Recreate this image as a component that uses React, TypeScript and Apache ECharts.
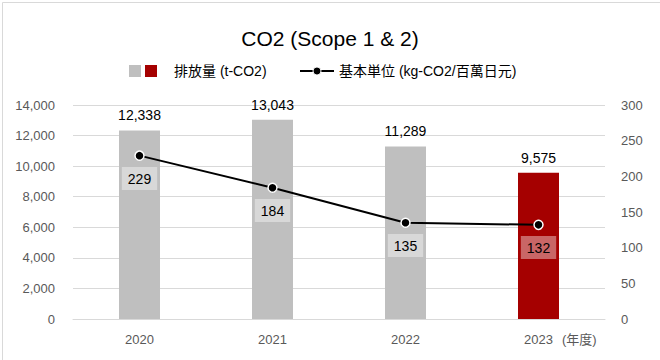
import React, { useEffect, useRef } from "react";
import * as echarts from "echarts";

const categories = ["2020", "2021", "2022", "2023"];
const emissions = [12338, 13043, 11289, 9575];
const intensity = [229, 184, 135, 132];
const leftTicks = { min: 0, max: 14000, interval: 2000 };
const rightTicks = { min: 0, max: 300, interval: 50 };

const FONT = "'Liberation Sans', Arial, 'Noto Sans CJK JP', sans-serif";
const GRAY = "#bfbfbf";
const RED = "#a50000";

export default function App() {
  const ref = useRef<HTMLDivElement>(null);
  useEffect(() => {
    if (!ref.current) return;
    const chart = echarts.init(ref.current, undefined, { renderer: "svg" });
    chart.setOption({
      animation: false,
      backgroundColor: "#ffffff",
      textStyle: { fontFamily: FONT },
      title: {
        text: "CO2 (Scope 1 & 2)",
        left: "center",
        top: 23,
        textStyle: { fontFamily: FONT, fontSize: 21, fontWeight: "normal", color: "#000" },
      },
      grid: { left: 73, right: 55, top: 105, bottom: 41 },
      xAxis: {
        type: "category",
        data: categories,
        axisTick: { show: false },
        axisLine: { lineStyle: { color: "#d9d9d9" } },
        axisLabel: { color: "#595959", fontSize: 13, margin: 14, fontFamily: FONT },
      },
      yAxis: [
        {
          type: "value",
          ...leftTicks,
          axisLine: { show: false },
          axisTick: { show: false },
          splitLine: { lineStyle: { color: "#d9d9d9" } },
          axisLabel: {
            color: "#595959",
            fontSize: 13,
            margin: 18,
            fontFamily: FONT,
            formatter: (v: number) => v.toLocaleString("en-US"),
          },
        },
        {
          type: "value",
          ...rightTicks,
          axisLine: { show: false },
          axisTick: { show: false },
          splitLine: { show: false },
          axisLabel: { color: "#595959", fontSize: 13, margin: 16, fontFamily: FONT },
        },
      ],
      series: [
        {
          name: "排放量 (t-CO2)",
          type: "bar",
          barWidth: 41,
          data: emissions.map((v, i) => ({
            value: v,
            itemStyle: { color: i === emissions.length - 1 ? RED : GRAY },
          })),
          label: {
            show: true,
            position: "top",
            distance: 8,
            color: "#000",
            fontSize: 14,
            fontFamily: FONT,
            formatter: (p: any) => Number(p.value).toLocaleString("en-US"),
          },
        },
        {
          name: "基本単位 (kg-CO2/百萬日元)",
          type: "line",
          yAxisIndex: 1,
          data: intensity,
          symbol: "circle",
          symbolSize: 9,
          lineStyle: { color: "#000", width: 2 },
          itemStyle: { color: "#000", borderColor: "#fff", borderWidth: 1.5 },
          label: {
            show: true,
            position: "bottom",
            distance: 6,
            color: "#000",
            fontSize: 14,
            fontFamily: FONT,
            backgroundColor: "rgba(255,255,255,0.4)",
            padding: [5, 6, 4, 6],
          },
        },
      ],
      graphic: [
        {
          type: "rect",
          left: 0,
          top: 0,
          shape: { x: 0.5, y: 0.5, width: 659, height: 359 },
          style: { fill: "none", stroke: "#d9d9d9", lineWidth: 1 },
          silent: true,
        },
        { type: "rect", shape: { x: 129, y: 65, width: 12, height: 12 }, style: { fill: GRAY } },
        { type: "rect", shape: { x: 145, y: 65, width: 12, height: 12 }, style: { fill: RED } },
        {
          type: "text",
          x: 174,
          y: 71,
          style: { text: "排放量 (t-CO2)", fill: "#000", font: `14px ${FONT}`, verticalAlign: "middle" },
        },
        { type: "line", shape: { x1: 300, y1: 71, x2: 334, y2: 71 }, style: { stroke: "#000", lineWidth: 2 } },
        { type: "circle", shape: { cx: 317, cy: 71, r: 4 }, style: { fill: "#000", stroke: "#fff", lineWidth: 1 } },
        {
          type: "text",
          x: 339,
          y: 71,
          style: { text: "基本単位 (kg-CO2/百萬日元)", fill: "#000", font: `14px ${FONT}`, verticalAlign: "middle" },
        },
        {
          type: "text",
          x: 562,
          y: 339,
          style: { text: "(年度)", fill: "#595959", font: `13px ${FONT}`, verticalAlign: "middle" },
        },
      ],
    });
    return () => chart.dispose();
  }, []);
  return (
    <div
      ref={ref}
      style={{ width: 660, height: 360, position: "absolute", left: 0, top: 0 }}
    />
  );
}
